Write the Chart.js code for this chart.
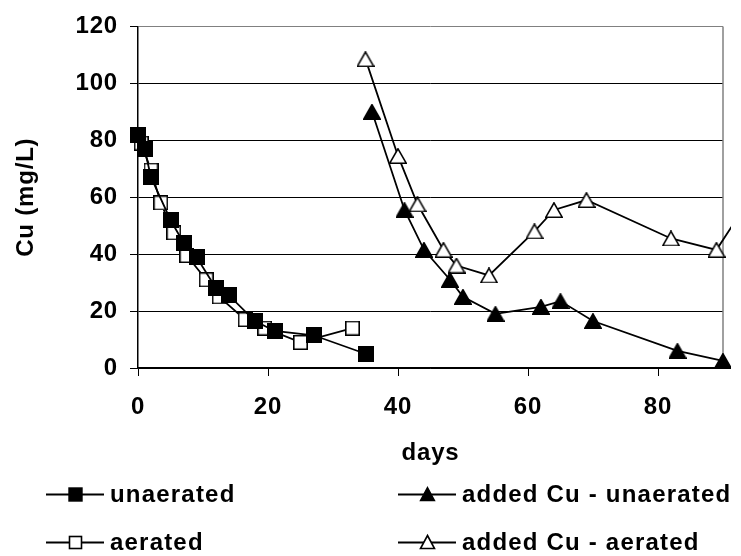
<!DOCTYPE html>
<html>
<head>
<meta charset="utf-8">
<script src="https://cdn.jsdelivr.net/npm/chart.js@4/dist/chart.umd.min.js"></script>
<style>
  html, body { margin: 0; padding: 0; background: #fff; }
  #wrap { position: relative; width: 741px; height: 556px; overflow: hidden; }
  canvas { position: absolute; left: 0; top: 0; }
  .leg { position: absolute; height: 30px; display: flex; align-items: center;
         font: bold 24px "Liberation Sans", Arial, sans-serif; letter-spacing: 1.2px; color: #000; white-space: nowrap; }
  .leg svg { margin-right: 6px; }
</style>
</head>
<body>
<div id="wrap">
  <canvas id="c" width="741" height="556"></canvas>
  <div id="legend"></div>
</div>
<script>
// ---- data ----
const unaeratedDays = [0, 1, 2, 5, 7, 9, 12, 14, 18, 21, 27, 35];
const unaeratedCu   = [82, 77, 67, 52, 44, 39, 28, 25.5, 16.5, 13, 11.5, 5];

const aeratedDays = [0.5, 2, 3.5, 5.5, 7.5, 10.5, 12.5, 16.5, 19.5, 25, 33];
const aeratedCu   = [79, 69.5, 58, 47.5, 39.5, 31, 25, 17, 14, 9, 14];

const addedUnaeratedDays = [36, 41, 44, 48, 50, 55, 62, 65, 70, 83, 90, 97];
const addedUnaeratedCu   = [90, 55.5, 41.5, 31, 25, 19, 21.5, 23.5, 16.5, 6, 2.5, 9];

const addedAeratedDays = [35, 40, 43, 47, 49, 54, 61, 64, 69, 82, 89, 96];
const addedAeratedCu   = [108.5, 74.5, 57.5, 41.5, 36, 32.5, 48, 55.5, 59, 45.5, 41.5, 66];

const seriesNames = ['unaerated', 'aerated', 'added Cu - unaerated', 'added Cu - aerated'];
const yTicks = [0, 20, 40, 60, 80, 100, 120];
const xTicks = [0, 20, 40, 60, 80];

// ---- marker images ----
function markerCanvas(kind, w, h) {
  const c = document.createElement('canvas');
  c.width = w; c.height = h;
  const g = c.getContext('2d');
  g.lineWidth = 1.6;
  g.strokeStyle = '#000';
  g.beginPath();
  if (kind.indexOf('square') >= 0) {
    g.rect(0.8, 0.8, w - 1.6, h - 1.6);
  } else {
    g.moveTo(w / 2, 0.8);
    g.lineTo(w - 0.8, h - 0.8);
    g.lineTo(0.8, h - 0.8);
    g.closePath();
  }
  g.fillStyle = kind.indexOf('filled') >= 0 ? '#000' : '#fff';
  g.fill();
  g.stroke();
  return c;
}
const mFilledSq = markerCanvas('filled-square', 16, 16);
const mOpenSq = markerCanvas('open-square', 15, 15);
const mFilledTri = markerCanvas('filled-tri', 18, 16);
const mOpenTri = markerCanvas('open-tri', 18, 16);

function pts(xs, ys) { return xs.map((x, i) => ({ x: x, y: ys[i] })); }

const clipBox = { left: 10, top: 12, right: 8, bottom: 10 };
function ds(label, xs, ys, marker, order) {
  return {
    label: label,
    data: pts(xs, ys),
    borderColor: '#000',
    borderWidth: 1.8,
    backgroundColor: '#000',
    pointStyle: marker,
    pointRadius: 8,
    pointHoverRadius: 8,
    tension: 0,
    fill: false,
    clip: clipBox,
    order: order
  };
}

Chart.defaults.font.family = '"Liberation Sans", Arial, sans-serif';
Chart.defaults.color = '#000';

const spacingPlugin = {
  id: 'spacing',
  beforeDraw(chart) { chart.ctx.letterSpacing = '0.8px'; }
};
const borderPlugin = {
  id: 'rightBorder',
  beforeDatasetsDraw(chart) {
    const a = chart.chartArea, ctx = chart.ctx;
    ctx.save();
    ctx.strokeStyle = '#808080';
    ctx.lineWidth = 1.5;
    ctx.beginPath();
    ctx.moveTo(a.right, a.top);
    ctx.lineTo(a.right, a.bottom);
    ctx.stroke();
    ctx.restore();
  }
};

const axisFont = { size: 24, weight: 'bold' };

new Chart(document.getElementById('c'), {
  type: 'line',
  data: {
    datasets: [
      ds(seriesNames[0], unaeratedDays, unaeratedCu, mFilledSq, 0),
      ds(seriesNames[1], aeratedDays, aeratedCu, mOpenSq, 1),
      ds(seriesNames[2], addedUnaeratedDays, addedUnaeratedCu, mFilledTri, 2),
      ds(seriesNames[3], addedAeratedDays, addedAeratedCu, mOpenTri, 3)
    ]
  },
  options: {
    responsive: false,
    animation: false,
    events: [],
    layout: { padding: { left: 0, top: 25, right: 18, bottom: 88 } },
    plugins: { legend: { display: false }, tooltip: { enabled: false } },
    scales: {
      x: {
        type: 'linear',
        min: 0, max: 90,
        afterFit(s) { s.height = 100; },
        afterBuildTicks(s) { s.ticks = xTicks.map(v => ({ value: v })); },
        ticks: { stepSize: 20, includeBounds: false, padding: 17, maxRotation: 0,
                 font: axisFont, color: '#000' },
        grid: { drawOnChartArea: false, drawTicks: true, tickLength: 8, tickColor: '#000', lineWidth: 1 },
        border: { display: true, color: '#000', width: 1.5 },
        title: { display: true, text: 'days', font: axisFont, color: '#000',
                 padding: { top: 0, bottom: 0 } }
      },
      y: {
        type: 'linear',
        min: 0, max: 120,
        afterFit(s) { s.width = 138; },
        afterBuildTicks(s) { s.ticks = yTicks.map(v => ({ value: v })); },
        ticks: { stepSize: 20, padding: 12, font: axisFont, color: '#000' },
        grid: {
          color: (c) => (c.tick && c.tick.value === 120) ? '#808080' : '#000',
          tickColor: '#000',
          lineWidth: 1,
          tickLength: 8,
          drawTicks: true
        },
        border: { display: true, color: '#000', width: 1.5 },
        title: { display: true, text: 'Cu (mg/L)', font: axisFont, color: '#000',
                 padding: { top: 12, bottom: 0 } }
      }
    }
  },
  plugins: [spacingPlugin, borderPlugin]
});

// ---- legend (HTML, two columns) ----
function svgMarker(kind) {
  let m;
  if (kind === 'filled-square') m = '<rect x="23" y="4" width="13" height="13" fill="#000" stroke="#000" stroke-width="1.4"/>';
  else if (kind === 'open-square') m = '<rect x="23.5" y="4.5" width="12" height="12" fill="#fff" stroke="#000" stroke-width="1.6"/>';
  else if (kind === 'filled-tri') m = '<polygon points="29.5,3.5 36.5,16.5 22.5,16.5" fill="#000" stroke="#000" stroke-width="1.4"/>';
  else m = '<polygon points="29.5,3.5 36.5,16.5 22.5,16.5" fill="#fff" stroke="#000" stroke-width="1.6"/>';
  return '<svg width="58" height="21" viewBox="0 0 58 21"><line x1="0" y1="10.5" x2="58" y2="10.5" stroke="#000" stroke-width="1.8"/>' + m + '</svg>';
}
const legendItems = [
  { name: seriesNames[0], kind: 'filled-square', left: 46, cy: 494 },
  { name: seriesNames[2], kind: 'filled-tri', left: 398, cy: 494 },
  { name: seriesNames[1], kind: 'open-square', left: 46, cy: 542 },
  { name: seriesNames[3], kind: 'open-tri', left: 398, cy: 542 }
];
const legEl = document.getElementById('legend');
legendItems.forEach(it => {
  const d = document.createElement('div');
  d.className = 'leg';
  d.style.left = it.left + 'px';
  d.style.top = (it.cy - 15) + 'px';
  d.innerHTML = svgMarker(it.kind) + '<span>' + it.name + '</span>';
  legEl.appendChild(d);
});
</script>
</body>
</html>
